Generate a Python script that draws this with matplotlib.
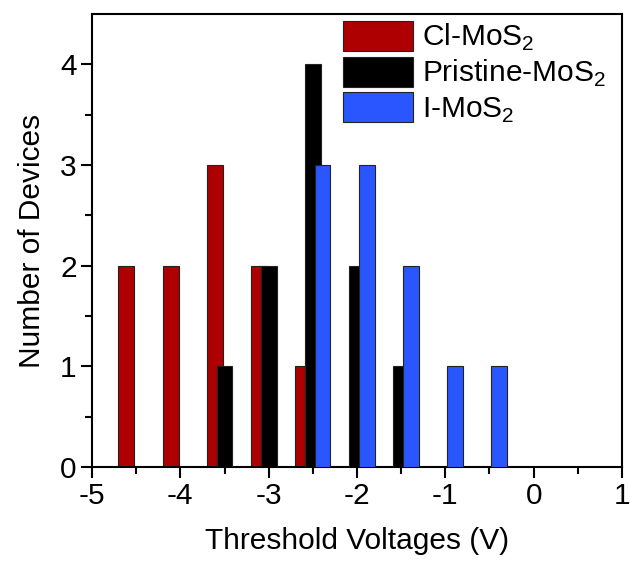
import numpy as np
import matplotlib.pyplot as plt

plt.rcParams['font.family'] = ['Liberation Sans', 'DejaVu Sans']
plt.rcParams['mathtext.fontset'] = 'custom'
plt.rcParams['mathtext.rm'] = 'Liberation Sans'
plt.rcParams['axes.unicode_minus'] = False

# bin centres (V) and counts per sample
cl_x = [-4.5, -4.0, -3.5, -3.0, -2.5]
cl_n = [2, 2, 3, 2, 1]
pr_x = [-3.5, -3.0, -2.5, -2.0, -1.5]
pr_n = [1, 2, 4, 2, 1]
io_x = [-2.5, -2.0, -1.5, -1.0, -0.5]
io_n = [3, 3, 2, 1, 1]

w = 0.18
off = 0.11
fs = 21.5

fig = plt.figure(figsize=(6.3, 5.63), dpi=100)
ax = fig.add_axes([92/630, 96/563, 530/630, 453/563])

ax.bar(np.array(cl_x) - off, cl_n, w, color='#AE0000', edgecolor='#222222', lw=0.8,
       label=r'Cl-MoS$_\mathrm{2}$', zorder=2)
ax.bar(np.array(pr_x), pr_n, w, color='black', edgecolor='#222222', lw=0.8,
       label=r'Pristine-MoS$_\mathrm{2}$', zorder=3)
ax.bar(np.array(io_x) + off, io_n, w, color='#2A56FF', edgecolor='#222222', lw=0.8,
       label=r'I-MoS$_\mathrm{2}$', zorder=4)

ax.set_xlim(-5, 1)
ax.set_ylim(0, 4.5)
ax.set_xticks(np.arange(-5, 1.1, 1))
ax.set_xticks(np.arange(-4.5, 1, 1), minor=True)
ax.set_yticks([0, 1, 2, 3, 4])
ax.set_yticks([0.5, 1.5, 2.5, 3.5], minor=True)
ax.tick_params(which='major', direction='out', length=8, width=1.5, labelsize=fs, pad=3)
ax.tick_params(which='minor', direction='out', length=5, width=1.5)
for s in ax.spines.values():
    s.set_linewidth(1.5)

ax.set_xlabel('Threshold Voltages (V)', fontsize=fs, labelpad=12)
ax.set_ylabel('Number of Devices', fontsize=fs, labelpad=10)

ax.legend(loc='upper left', bbox_to_anchor=(0.474, 0.985), frameon=False,
          fontsize=fs, handlelength=2.34, handleheight=1.17, labelspacing=0.12,
          handletextpad=0.3, borderpad=0, borderaxespad=0)

fig.savefig('out.png', dpi=100)
